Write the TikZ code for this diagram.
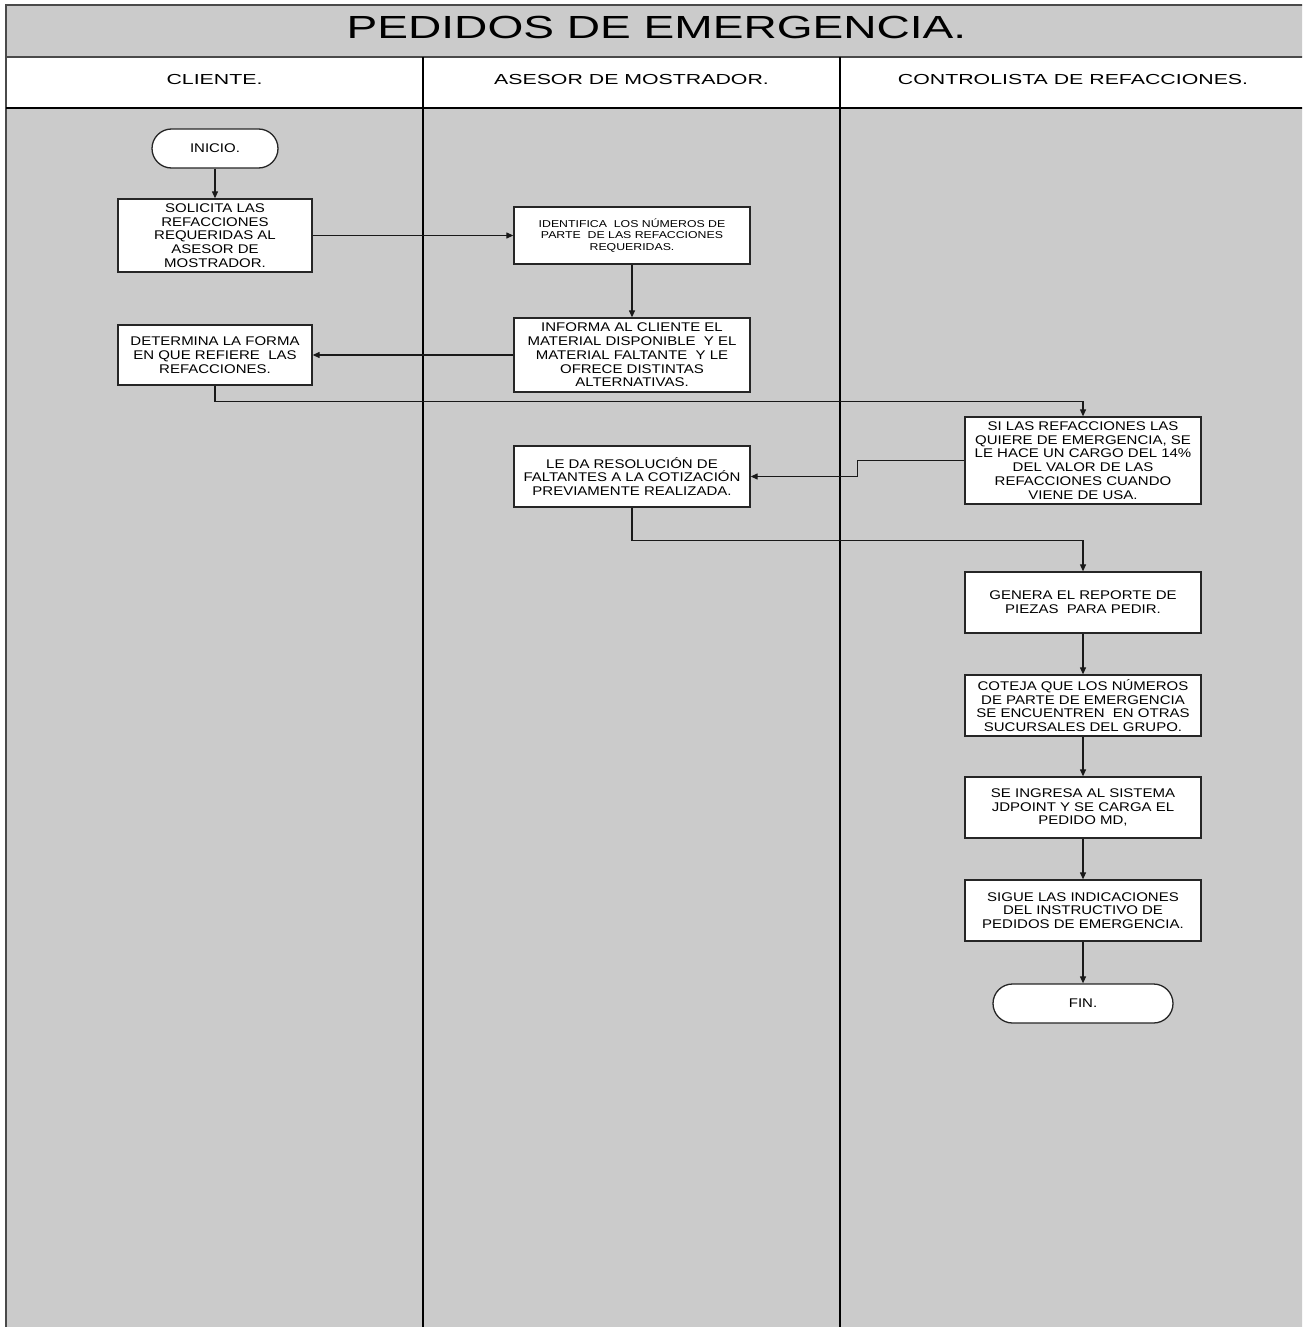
\documentclass[tikz,border=0pt]{standalone}
\usepackage{fontspec}
\setmainfont{Liberation Sans}
\newfontfamily\titlefont[FakeStretch=1.44]{Liberation Sans}
\newfontfamily\headfont[FakeStretch=1.47]{Liberation Sans}
\newfontfamily\boxfont[FakeStretch=1.19]{Liberation Sans}
\newfontfamily\smallboxfont[FakeStretch=1.23]{Liberation Sans}
\usetikzlibrary{arrows.meta}
\definecolor{lanegray}{HTML}{CBCBCB}
\definecolor{framegray}{HTML}{4A4A4A}
\tikzset{
  stepbox/.style={draw=black!85, fill=white, line width=1.3pt, align=center,
    inner sep=2pt, font=\boxfont\fontsize{12.6}{13.8}\selectfont},
  smallstep/.style={stepbox, font=\smallboxfont\fontsize{10}{11.3}\selectfont},
  termbox/.style={stepbox, rounded corners=19.5pt},
  flow/.style={line width=1.2pt, black!90, -{Triangle[length=7pt,width=6pt]}},
  lanehead/.style={font=\headfont\fontsize{14.5}{16}\selectfont},
}
\begin{document}
\begin{tikzpicture}[x=1pt,y=-1pt]
\useasboundingbox (0,0) rectangle (1302,1327);

% swimlane frame
\begin{scope}
  \clip (0,0) rectangle (1302,1327);
  \fill[lanegray] (6,5) rectangle (1320,57);
  \fill[white] (6,57) rectangle (1320,108);
  \fill[lanegray] (6,108) rectangle (1320,1340);
  \draw[framegray, line width=2pt] (1320,5) -- (6,5) -- (6,1340);
  \draw[framegray, line width=2pt] (6,57) -- (1320,57);
  \draw[black, line width=1.3pt] (6,108) -- (1320,108);
  \draw[black, line width=1.3pt] (423,57) -- (423,1340);
  \draw[black, line width=1.3pt] (840,57) -- (840,1340);
\end{scope}

% title and lane headings
\node (title) at (656.5,27) {\titlefont\fontsize{32}{38}\selectfont PEDIDOS DE EMERGENCIA.};
\node[lanehead] (h1) at (214.5,80) {CLIENTE.};
\node[lanehead] (h2) at (631.5,80) {ASESOR DE MOSTRADOR.};
\node[lanehead] (h3) at (1073,80) {CONTROLISTA DE REFACCIONES.};

% steps
\node[termbox, minimum width=126pt, minimum height=39pt] (ini) at (215,148.5) {INICIO.};
\node[stepbox, minimum width=194pt, minimum height=73pt] (sol) at (215,235.5)
  {SOLICITA LAS\\REFACCIONES\\REQUERIDAS AL\\ASESOR DE\\MOSTRADOR.};
\node[smallstep, minimum width=236pt, minimum height=57pt] (ide) at (632,235.5)
  {IDENTIFICA\ \ LOS NÚMEROS DE\\PARTE\ \ DE LAS REFACCIONES\\REQUERIDAS.};
\node[stepbox, minimum width=236pt, minimum height=74pt] (inf) at (632,355)
  {INFORMA AL CLIENTE EL\\MATERIAL DISPONIBLE\ \ Y EL\\MATERIAL FALTANTE\ \ Y LE\\OFRECE DISTINTAS\\ALTERNATIVAS.};
\node[stepbox, minimum width=194pt, minimum height=60pt] (det) at (215,355)
  {DETERMINA LA FORMA\\EN QUE REFIERE\ \ LAS\\REFACCIONES.};
\node[stepbox, minimum width=236pt, minimum height=87pt] (si) at (1083,460.5)
  {SI LAS REFACCIONES LAS\\QUIERE DE EMERGENCIA, SE\\LE HACE UN CARGO DEL 14\%\\DEL VALOR DE LAS\\REFACCIONES CUANDO\\VIENE DE USA.};
\node[stepbox, minimum width=236pt, minimum height=61pt] (le) at (632,476.5)
  {LE DA RESOLUCIÓN DE\\FALTANTES A LA COTIZACIÓN\\PREVIAMENTE REALIZADA.};
\node[stepbox, minimum width=236pt, minimum height=61pt] (gen) at (1083,602.5)
  {GENERA EL REPORTE DE\\PIEZAS\ \ PARA PEDIR.};
\node[stepbox, minimum width=236pt, minimum height=61pt] (cot) at (1083,705.5)
  {COTEJA QUE LOS NÚMEROS\\DE PARTE DE EMERGENCIA\\SE ENCUENTREN\ \ EN OTRAS\\SUCURSALES DEL GRUPO.};
\node[stepbox, minimum width=236pt, minimum height=61pt] (ing) at (1083,807.5)
  {SE INGRESA AL SISTEMA\\JDPOINT Y SE CARGA EL\\PEDIDO MD,};
\node[stepbox, minimum width=236pt, minimum height=61pt] (sig) at (1083,910.5)
  {SIGUE LAS INDICACIONES\\DEL INSTRUCTIVO DE\\PEDIDOS DE EMERGENCIA.};
\node[termbox, minimum width=180pt, minimum height=39pt] (fin) at (1083,1003.5) {FIN.};

% connectors
\draw[flow] (ini) -- (sol);
\draw[flow] (sol.east) -- (ide.west);
\draw[flow] (ide) -- (inf);
\draw[flow] (inf.west) -- (det.east);
\draw[flow] (det.south) -- ++(0,16) -| (si.north);
\draw[flow] (si.west) -- ++(-107,0) |- (le.east);
\draw[flow] (le.south) -- ++(0,33) -| (gen.north);
\draw[flow] (gen) -- (cot);
\draw[flow] (cot) -- (ing);
\draw[flow] (ing) -- (sig);
\draw[flow] (sig) -- (fin);
\end{tikzpicture}
\end{document}
